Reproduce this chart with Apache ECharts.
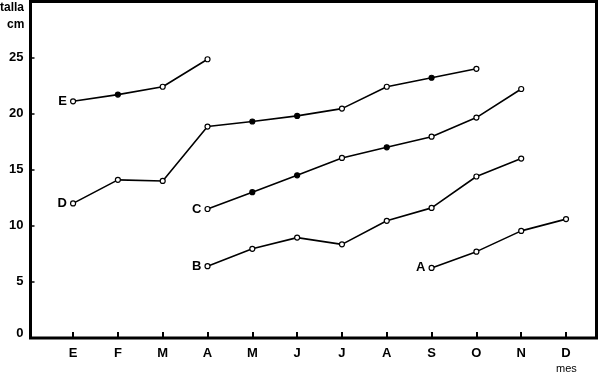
<!DOCTYPE html>
<html>
<head>
<meta charset="utf-8">
<script src="https://cdn.jsdelivr.net/npm/echarts@6/dist/echarts.min.js"></script>
<style>
html,body{margin:0;padding:0;background:#fff;}
#chart{width:599px;height:373px;}
</style>
</head>
<body>
<div id="chart"></div>
<script>
const months = ['E','F','M','A','M','J','J','A','S','O','N','D'];
const yTicks = [0, 5, 10, 15, 20, 25];
const seriesNames = ['E','D','C','B','A'];
const valuesE = [21.1, 21.7, 22.4, 24.85, null, null, null, null, null, null, null, null];
const valuesD = [12.0, 14.1, 14.0, 18.85, 19.3, 19.8, 20.45, 22.4, 23.2, 24.0, null, null];
const valuesC = [null, null, null, 11.5, 13.0, 14.5, 16.05, 17.0, 17.95, 19.65, 22.2, null];
const valuesB = [null, null, null, 6.4, 7.95, 8.95, 8.35, 10.45, 11.6, 14.4, 16.0, null];
const valuesA = [null, null, null, null, null, null, null, null, 6.25, 7.7, 9.55, 10.6];
const filledE = [1];
const filledD = [4, 5, 8];
const filledC = [4, 5, 7];
const filledB = [];
const filledA = [];

const allValues = [valuesE, valuesD, valuesC, valuesB, valuesA];
const allFilled = [filledE, filledD, filledC, filledB, filledA];

const chart = echarts.init(document.getElementById('chart'), null, {renderer: 'canvas'});

function buildSeries(name, vals, filled) {
  const first = vals.findIndex(v => v !== null);
  const data = [];
  vals.forEach((v, i) => {
    if (v === null) return;
    const isFilled = filled.indexOf(i) >= 0;
    const item = {
      value: [i, v],
      symbolSize: 5,
      itemStyle: {color: isFilled ? '#000' : '#fff', borderColor: '#000', borderWidth: 1.2}
    };
    if (i === first) {
      item.label = {
        show: true, position: 'left', distance: 3, formatter: name,
        color: '#000', fontSize: 13, fontWeight: 'bold',
        fontFamily: 'Liberation Sans, Arial, sans-serif'
      };
    }
    data.push(item);
  });
  return {
    type: 'line', name: name, data: data,
    symbol: 'circle', showAllSymbol: true,
    lineStyle: {color: '#000', width: 1.6},
    itemStyle: {color: '#fff', borderColor: '#000'},
    z: 3, silent: true, animation: false
  };
}

const option = {
  animation: false,
  backgroundColor: '#fff',
  grid: {
    left: 30.5, right: 2.5, top: 1.5, bottom: 35,
    show: true, borderColor: '#000', borderWidth: 3, backgroundColor: 'transparent',
    containLabel: false, outerBoundsMode: 'none'
  },
  xAxis: {
    type: 'value', min: -0.95, max: 11.68,
    splitLine: {show: false},
    axisLine: {show: false, onZero: false},
    axisTick: {show: true, inside: true, length: 6, customValues: months.map((m, i) => i),
      lineStyle: {color: '#000', width: 2}},
    axisLabel: {
      customValues: months.map((m, i) => i),
      formatter: v => months[Math.round(v)],
      color: '#000', fontSize: 13, fontWeight: 'bold', margin: 9,
      fontFamily: 'Liberation Sans, Arial, sans-serif'
    }
  },
  yAxis: {
    type: 'value', min: 0, max: 30, interval: 5,
    splitLine: {show: false},
    axisLine: {show: false, onZero: false},
    axisTick: {show: true, inside: true, length: 4, customValues: yTicks,
      lineStyle: {color: '#000', width: 1.5}},
    axisLabel: {
      customValues: yTicks,
      formatter: v => v === 0 ? '{z|0}' : String(v),
      color: '#000', fontSize: 13, fontWeight: 'bold', margin: 7,
      fontFamily: 'Liberation Sans, Arial, sans-serif',
      rich: {z: {fontSize: 13, fontWeight: 'bold', color: '#000', padding: [0, 0, 9, 0],
        fontFamily: 'Liberation Sans, Arial, sans-serif'}}
    }
  },
  graphic: [
    {type: 'text', left: 0, top: 2, style: {text: 'talla', fill: '#000', font: 'bold 12px Liberation Sans, Arial, sans-serif'}},
    {type: 'text', left: 7, top: 19, style: {text: 'cm', fill: '#000', font: 'bold 12px Liberation Sans, Arial, sans-serif'}},
    {type: 'text', left: 556, top: 363, style: {text: 'mes', fill: '#000', font: '11px Liberation Sans, Arial, sans-serif'}}
  ],
  series: seriesNames.map((n, k) => buildSeries(n, allValues[k], allFilled[k]))
};
chart.setOption(option);
</script>
</body>
</html>
